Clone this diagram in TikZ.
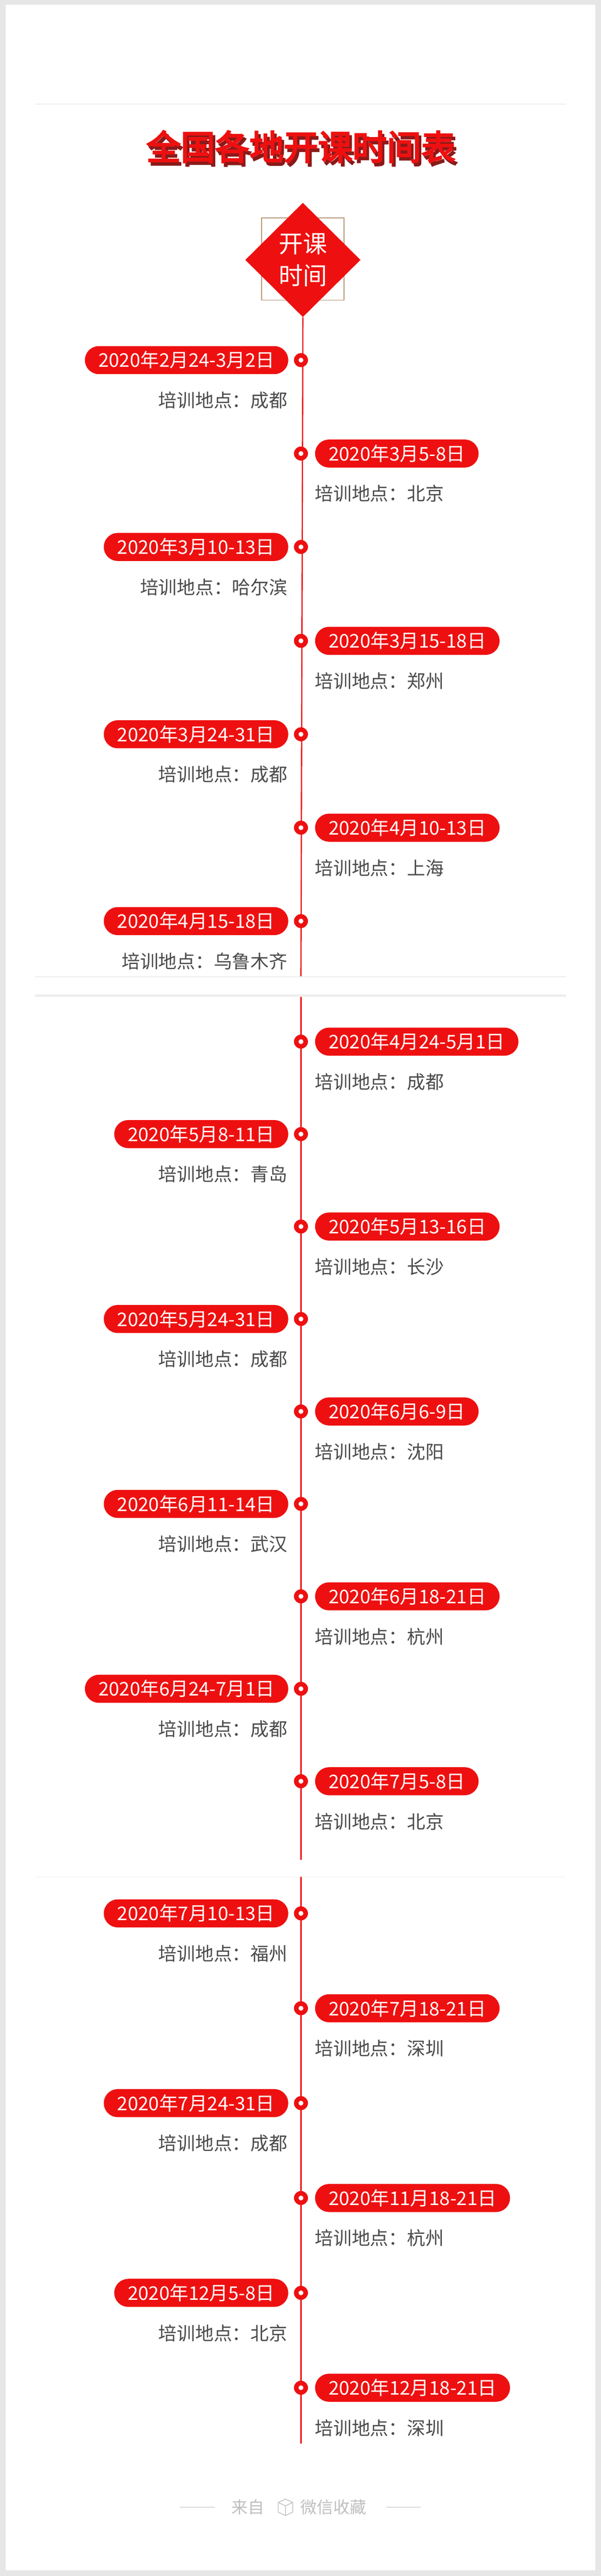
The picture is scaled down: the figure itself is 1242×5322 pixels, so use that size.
\documentclass[tikz,border=0pt]{standalone}
\usepackage{fontspec}
\setmainfont{Noto Sans CJK SC}
\newfontfamily\titlefont[FakeBold=4]{Noto Sans CJK SC}
\usetikzlibrary{shapes.geometric}
\definecolor{rd}{HTML}{EE1010}
\definecolor{drd}{HTML}{8A1A1A}
\definecolor{txt}{HTML}{4A4A4A}
\definecolor{bg}{HTML}{E6E6E6}
\definecolor{sep}{HTML}{EEEEEE}
\definecolor{gold}{HTML}{B89A7A}
\tikzset{
  pill/.style={fill=rd, text=white, rounded corners=29pt, minimum height=58pt, inner xsep=28pt, inner ysep=0pt, font=\fontsize{39}{42}\selectfont},
  place/.style={text=txt, inner sep=0pt, font=\fontsize{38}{40}\selectfont},
  dotn/.style={circle, fill=rd, minimum size=29pt, inner sep=0pt},
  dotin/.style={circle, fill=white, minimum size=10pt, inner sep=0pt},
  tline/.style={draw=rd, line width=2.5pt},
}
\newcommand\evL[4]{%
  \node[dotn] (d#1) at (622pt,-#2pt) {};
  \node[dotin] at (d#1) {};
  \node[pill, anchor=east] (p#1) at (596pt,-#2pt) {#3};
  \node[place, anchor=east] (t#1) at (594pt,-#2pt-83pt) {培训地点：#4};
}
\newcommand\evR[4]{%
  \node[dotn] (d#1) at (622pt,-#2pt) {};
  \node[dotin] at (d#1) {};
  \node[pill, anchor=west] (p#1) at (651pt,-#2pt) {#3};
  \node[place, anchor=west] (t#1) at (651pt,-#2pt-83pt) {培训地点：#4};
}
\begin{document}
\begin{tikzpicture}[x=1pt,y=1pt]
\useasboundingbox (0,0) rectangle (1242,-5322);
\fill[bg] (0,0) rectangle (1242,-5322);
\fill[white] (12,-10) rectangle (1230,-5310);
\draw[sep, line width=3pt] (72,-215) -- (1170,-215);
% title
\node[text=drd, font=\titlefont\fontsize{71}{75}\selectfont] at (627,-310) {全国各地开课时间表};
\node[text=rd, font=\titlefont\fontsize{71}{75}\selectfont] (title) at (622,-303) {全国各地开课时间表};
% diamond
\draw[gold, line width=2pt] (541,-450) rectangle (711,-620);
\node[diamond, fill=rd, minimum width=238pt, minimum height=236pt, inner sep=0pt] (dia) at (626,-537) {};
\node[text=white, align=center, font=\fontsize{50}{66}\selectfont] at (dia) {开课\\时间};
% section 1
\coordinate (s1e) at (622,-2018);
\draw[tline] (dia.south) -- (s1e);
\evL{a1}{744}{2020年2月24-3月2日}{成都}
\evR{a2}{937}{2020年3月5-8日}{北京}
\evL{a3}{1130}{2020年3月10-13日}{哈尔滨}
\evR{a4}{1324}{2020年3月15-18日}{郑州}
\evL{a5}{1517}{2020年3月24-31日}{成都}
\evR{a6}{1710}{2020年4月10-13日}{上海}
\evL{a7}{1903}{2020年4月15-18日}{乌鲁木齐}
\draw[sep, line width=1.5pt] (72,-2018) -- (1170,-2018);
\draw[sep, line width=6pt] (72,-2057) -- (1170,-2057);
% section 2
\coordinate (s2s) at (622,-2060);
\coordinate (s2e) at (622,-3842);
\draw[tline] (s2s) -- (s2e);
\evR{b1}{2152}{2020年4月24-5月1日}{成都}
\evL{b2}{2343}{2020年5月8-11日}{青岛}
\evR{b3}{2534}{2020年5月13-16日}{长沙}
\evL{b4}{2725}{2020年5月24-31日}{成都}
\evR{b5}{2916}{2020年6月6-9日}{沈阳}
\evL{b6}{3107}{2020年6月11-14日}{武汉}
\evR{b7}{3298}{2020年6月18-21日}{杭州}
\evL{b8}{3489}{2020年6月24-7月1日}{成都}
\evR{b9}{3680}{2020年7月5-8日}{北京}
\draw[sep, line width=1.5pt] (72,-3878) -- (1170,-3878);
% section 3
\coordinate (s3s) at (622,-3878);
\coordinate (s3e) at (622,-5048);
\draw[tline] (s3s) -- (s3e);
\evL{c1}{3953}{2020年7月10-13日}{福州}
\evR{c2}{4149}{2020年7月18-21日}{深圳}
\evL{c3}{4345}{2020年7月24-31日}{成都}
\evR{c4}{4541}{2020年11月18-21日}{杭州}
\evL{c5}{4737}{2020年12月5-8日}{北京}
\evR{c6}{4933}{2020年12月18-21日}{深圳}
% footer
\draw[black!25, line width=1.5pt] (372,-5180) -- (444,-5180);
\draw[black!25, line width=1.5pt] (798,-5180) -- (870,-5180);
\node[text=black!25, font=\fontsize{34}{36}\selectfont, anchor=east] (f1) at (550,-5180) {来自};
\node[text=black!25, font=\fontsize{34}{36}\selectfont, anchor=west] (f2) at (618,-5180) {微信收藏};
\draw[black!25, line width=1.5pt] (590,-5163) -- (605,-5170) -- (605,-5190) -- (590,-5197) -- (575,-5190) -- (575,-5170) -- cycle
  (575,-5170) -- (590,-5177) -- (605,-5170) (590,-5177) -- (590,-5197);
\end{tikzpicture}
\end{document}
